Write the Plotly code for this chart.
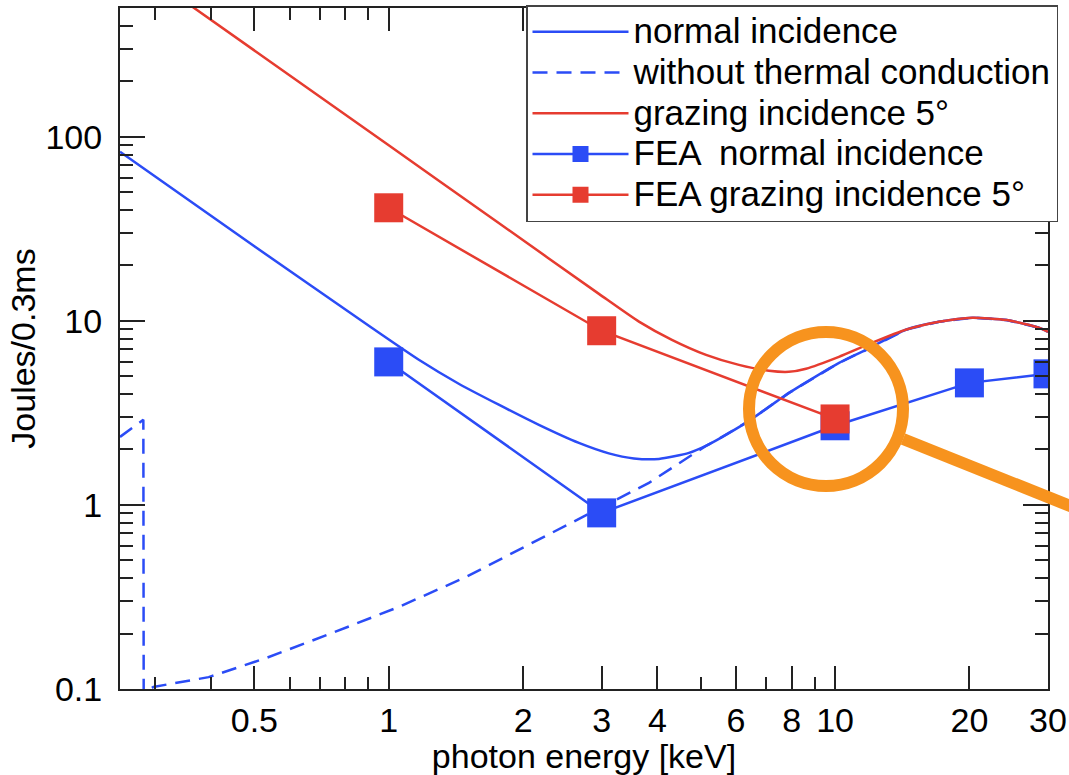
import plotly.graph_objects as go

# ---------------- data ----------------
normal_x = [0.25, 0.5, 0.916, 1.168, 1.435, 1.764, 2.17, 2.667, 3.113, 3.543, 4.031, 4.707,
            5.137, 5.494, 6.414, 7.886, 10.21, 11.74, 14.4, 17.1, 20.3, 24.2, 28.7, 30]
normal_y = [82.9, 25.4, 9.16, 6.14, 4.55, 3.50, 2.72, 2.17, 1.905, 1.789, 1.778, 1.917,
            2.093, 2.285, 2.86, 4.06, 5.91, 6.96, 8.94, 9.88, 10.4, 10.1, 9.16, 8.71]

nocond_x = [0.25, 0.282, 0.2825, 0.297, 0.395, 0.53, 0.745, 1.053, 1.49, 2.09, 2.853,
            3.828, 5.137, 5.494, 6.414, 7.886, 10.21, 11.74, 14.4, 17.1, 20.3, 24.2, 28.7, 30]
nocond_y = [2.34, 2.90, 0.095, 0.1026, 0.116, 0.147, 0.201, 0.279, 0.406, 0.621, 0.916,
            1.317, 2.093, 2.285, 2.86, 4.06, 5.91, 6.96, 8.94, 9.88, 10.4, 10.1, 9.16, 8.71]

grazing_x = [0.35, 1.0, 1.764, 2.958, 3.636, 4.31, 5.14, 6.09, 7.11, 7.88, 8.61, 10.2, 12.1,
             14.4, 17.1, 20.3, 24.2, 28.7, 30]
grazing_y = [541, 89.8, 34.0, 14.0, 9.9, 7.88, 6.53, 5.76, 5.35, 5.28, 5.49, 6.37, 7.59,
             8.94, 9.88, 10.4, 10.1, 9.16, 8.71]

fea_normal_x = [1, 3, 10, 20, 30]
fea_normal_y = [5.98, 0.905, 2.69, 4.60, 5.15]

fea_grazing_x = [1, 3, 10]
fea_grazing_y = [41.1, 8.83, 2.93]

series_names = ["normal incidence", "without thermal conduction", "grazing incidence 5°",
                "FEA  normal incidence", "FEA grazing incidence 5°"]

x_tickvals = [0.5, 1, 2, 3, 4, 6, 8, 10, 20, 30]
x_ticktext = ["0.5", "1", "2", "3", "4", "6", "8", "10", "20", "30"]
x_minor = [0.3, 0.4, 0.6, 0.7, 0.8, 0.9, 5, 7, 9]
y_tickvals = [0.1, 1, 10, 100]
y_ticktext = ["0.1", "1", "10", "100"]
y_minor = [m * d for d in (0.1, 1, 10, 100) for m in range(2, 10) if m * d <= 500]

# ---------------- style ----------------
BLUE = "#2B4CF6"
RED = "#E63C30"
ORANGE = "#F7931E"
FONT = "Liberation Sans, Arial, Helvetica, sans-serif"

W, H = 1069, 775
ML, MR, MT, MB = 120, 21, 8, 86
PW, PH = W - ML - MR, H - MT - MB


def px2paper_x(px):
    return (px - ML) / PW


def px2paper_y(py):
    return (H - MB - py) / PH


def legend_label(s):
    return '<span style="font-size:35px">' + s + '</span>'


fig = go.Figure()
fig.add_trace(go.Scatter(x=normal_x, y=normal_y, mode="lines", name=legend_label(series_names[0]),
                         line=dict(color=BLUE, width=2.5, shape="spline", smoothing=0.6)))
fig.add_trace(go.Scatter(x=nocond_x, y=nocond_y, mode="lines", name=legend_label(series_names[1]),
                         line=dict(color=BLUE, width=2.5, dash="15px,9px")))
fig.add_trace(go.Scatter(x=grazing_x, y=grazing_y, mode="lines", name=legend_label(series_names[2]),
                         line=dict(color=RED, width=2.5, shape="spline", smoothing=0.6)))
fig.add_trace(go.Scatter(x=fea_normal_x, y=fea_normal_y, mode="lines+markers",
                         name=legend_label(series_names[3]),
                         line=dict(color=BLUE, width=2.5),
                         marker=dict(symbol="square", size=29, color=BLUE)))
fig.add_trace(go.Scatter(x=fea_grazing_x, y=fea_grazing_y, mode="lines+markers",
                         name=legend_label(series_names[4]),
                         line=dict(color=RED, width=2.5),
                         marker=dict(symbol="square", size=29, color=RED)))

axis_common = dict(type="log", showgrid=False, zeroline=False, showline=True, automargin=False,
                   linecolor="#222", linewidth=2, mirror="allticks", ticks="inside",
                   tickcolor="#222", tickwidth=2, tickfont=dict(family=FONT, size=34, color="black"))

fig.update_xaxes(**axis_common, range=[-0.60206, 1.47712], tickmode="array",
                 tickvals=x_tickvals, ticktext=x_ticktext, ticklen=23,
                 minor=dict(tickmode="array", tickvals=x_minor, ticks="inside", ticklen=12,
                            tickcolor="#222", tickwidth=2),
                 title=dict(text="photon energy [keV]", font=dict(family=FONT, size=34, color="black"),
                            standoff=4))
fig.update_yaxes(**axis_common, range=[-1, 2.699], tickmode="array",
                 tickvals=y_tickvals, ticktext=y_ticktext, ticklen=25, ticklabelstandoff=9,
                 minor=dict(tickmode="array", tickvals=y_minor, ticks="inside", ticklen=13,
                            tickcolor="#222", tickwidth=2),
                 title=dict(text="Joules/0.3ms", font=dict(family=FONT, size=34, color="black"),
                            standoff=0))

# orange highlight circle with pointer line
cx, cy, r = px2paper_x(826), px2paper_y(409), 77
fig.add_shape(type="circle", xref="paper", yref="paper", xsizemode="pixel", ysizemode="pixel",
              xanchor=cx, yanchor=cy, x0=-r, x1=r, y0=-r, y1=r,
              line=dict(color=ORANGE, width=12), layer="above")
fig.add_shape(type="line", xref="paper", yref="paper",
              x0=px2paper_x(903), y0=px2paper_y(439), x1=px2paper_x(1080), y1=px2paper_y(510),
              line=dict(color=ORANGE, width=12), layer="above")

fig.update_layout(
    width=W, height=H, margin=dict(l=ML, r=MR, t=MT, b=MB, autoexpand=False),
    paper_bgcolor="white", plot_bgcolor="white",
    font=dict(family=FONT, size=34, color="black"),
    legend=dict(x=px2paper_x(1058), xanchor="right", y=px2paper_y(5), yanchor="top",
                bgcolor="white", bordercolor="#444", borderwidth=1.5,
                font=dict(family=FONT, size=29, color="black"), itemwidth=96,
                tracegroupgap=0),
)

fig.write_html("out.html", config={"displayModeBar": False},
               post_script="document.body.style.margin='0px';document.body.style.overflow='hidden';")
